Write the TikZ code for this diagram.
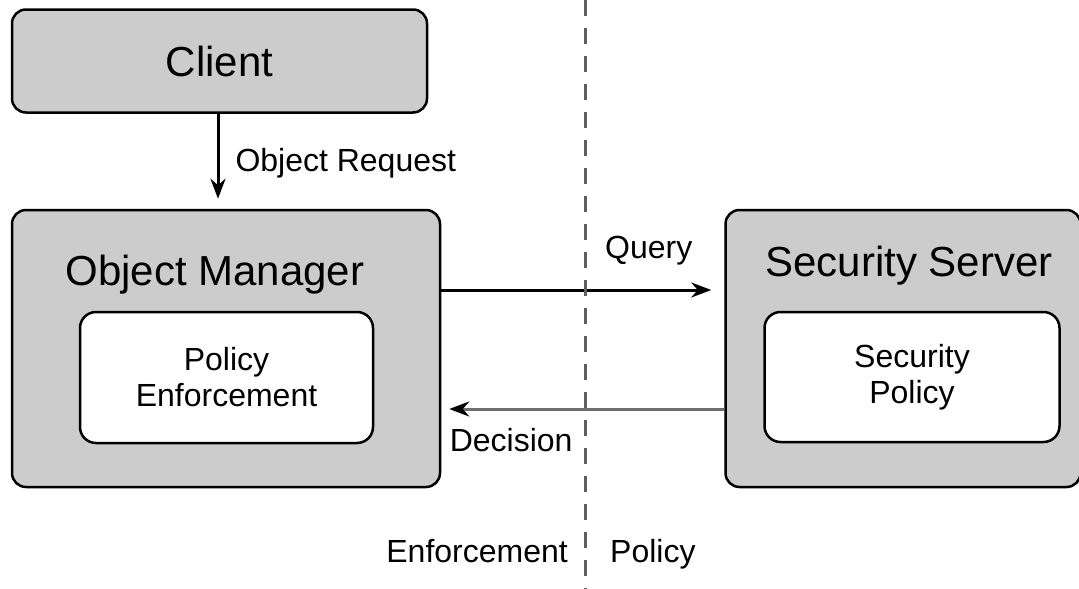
\documentclass[tikz,border=0pt]{standalone}
\usepackage{fontspec}
\setmainfont{Liberation Sans}
\usetikzlibrary{positioning,arrows.meta}
\definecolor{boxgray}{RGB}{204,204,204}
\definecolor{divgray}{RGB}{95,95,95}
\definecolor{decgray}{RGB}{110,110,110}
\newcommand{\titlesize}{\fontsize{42}{48}\selectfont}
\newcommand{\labelsize}{\fontsize{32}{36}\selectfont}

\begin{document}
\begin{tikzpicture}[x=1pt, y=-1pt,
    outer/.style={rectangle, draw, line width=2.5pt, fill=boxgray, rounded corners=14pt, font=\titlesize},
    inner/.style={rectangle, draw, line width=2.5pt, fill=white, rounded corners=16pt, align=center, font=\labelsize},
    title/.style={inner sep=0pt, font=\titlesize},
    lbl/.style={inner sep=4pt, font=\labelsize},
    arrow/.style={-{Stealth[length=20pt, width=15pt, color=black]}, line width=3pt},
    divider/.style={line width=3pt, color=divgray, dash pattern=on 16pt off 12pt},
]
\useasboundingbox (0,0) rectangle (1079,589);

% Object manager with its enforcement part
\node[outer, minimum width=428pt, minimum height=277pt] (om) at (226,348.5) {};
\node[title, anchor=base] (omtitle) at ([xshift=-11pt, yshift=-77pt]om.north) {Object Manager};
\node[inner, minimum width=293pt, minimum height=131pt] (enforce) at ([xshift=0.5pt, yshift=-29pt]om.center) {Policy\\Enforcement};

% Client
\node[outer, minimum width=415pt, minimum height=103pt, above right=95pt and 0pt of om.north west] (client) {Client};

% Security server with its policy part
\node[outer, minimum width=355pt, minimum height=277pt, right=283pt of om] (ss) {};
\node[title, anchor=base] (sstitle) at ([xshift=6pt, yshift=-68pt]ss.north) {Security Server};
\node[inner, minimum width=295pt, minimum height=130pt] (secpol) at ([xshift=9pt, yshift=-28.5pt]ss.center) {Security\\Policy};

% Arrows
\coordinate (rstart) at ([xshift=-1.5pt]client.south);
\draw[arrow, shorten >=10pt] (rstart) -- (rstart |- om.north) node[lbl, pos=0.52, right=12pt] (reqlbl) {Object Request};

\coordinate (qstart) at ([yshift=58.5pt]om.east);
\draw[arrow, shorten >=13pt] (qstart) -- (qstart -| ss.west) node[lbl, pos=0.733, above=19pt] (querylbl) {Query};

\coordinate (dstart) at ([yshift=-60.5pt]ss.west);
\draw[arrow, color=decgray, shorten >=8pt] (dstart) -- (dstart -| om.east) node[lbl, text=black, pos=0.753, below=13.6pt] (declbl) {Decision};

% Divider between enforcement and policy
\coordinate (divtop) at (585,0);
\coordinate (divbot) at (585,589);
\draw[divider] (divtop) -- (divbot);
\node[lbl, anchor=base east] (enfside) at (572,562) {Enforcement};
\node[lbl, anchor=base west] (polside) at (606,562) {Policy};

\end{tikzpicture}
\end{document}
